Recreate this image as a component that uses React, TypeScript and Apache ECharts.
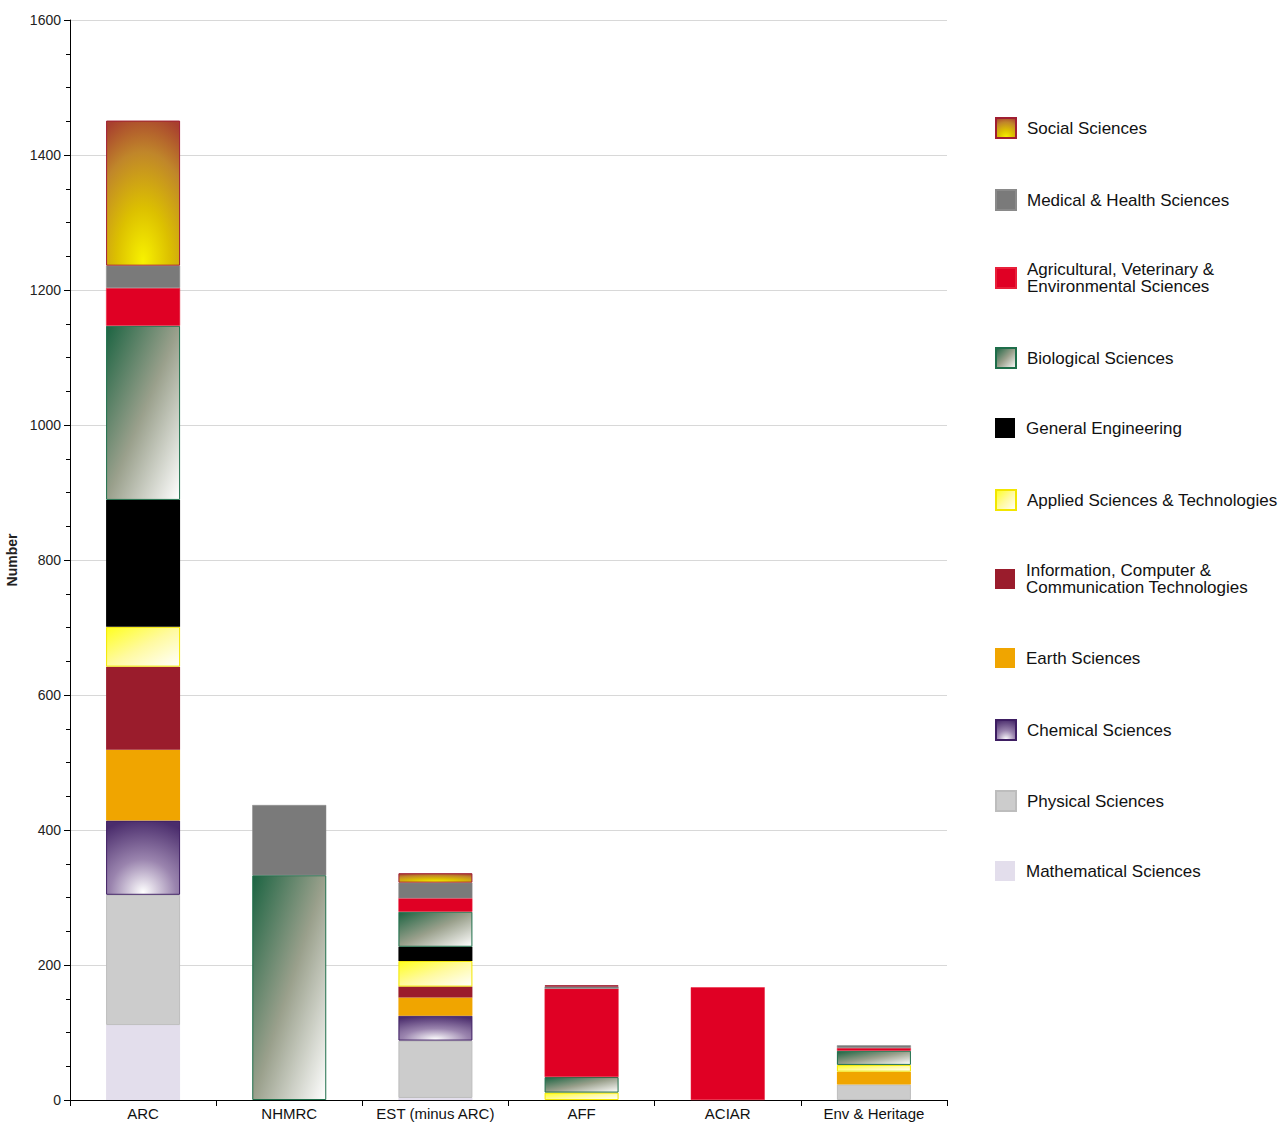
import React, { useEffect, useRef } from "react";
import * as echarts from "echarts";

const categories = ["ARC", "NHMRC", "EST (minus ARC)", "AFF", "ACIAR", "Env & Heritage"];

const mathematical = [111, 0, 3, 0, 0, 0];
const physical = [193, 0, 85, 0, 0, 23];
const chemical = [110, 0, 37, 0, 0, 0];
const earth = [105, 0, 27, 0, 0, 19];
const ict = [123, 0, 16, 0, 0, 0];
const applied = [59, 0, 38, 11, 0, 10];
const generalEng = [188, 0, 21, 0, 0, 0];
const biological = [258, 333, 52, 23, 0, 21];
const agricultural = [56, 0, 20, 131, 167, 4];
const medical = [33, 104, 23, 3, 0, 4];
const social = [215, 0, 14, 2, 0, 0];

const yTicks = [0, 200, 400, 600, 800, 1000, 1200, 1400, 1600];

const names = {
  social: "Social Sciences",
  medical: "Medical & Health Sciences",
  agri: "Agricultural, Veterinary &\nEnvironmental Sciences",
  bio: "Biological Sciences",
  gen: "General Engineering",
  applied: "Applied Sciences & Technologies",
  ict: "Information, Computer &\nCommunication Technologies",
  earth: "Earth Sciences",
  chem: "Chemical Sciences",
  phys: "Physical Sciences",
  math: "Mathematical Sciences",
};

export default function App() {
  const ref = useRef<HTMLDivElement>(null);
  useEffect(() => {
    document.body.style.margin = "0";
    const chart = echarts.init(ref.current!, null, { renderer: "svg" });
    const G = echarts.graphic;
    const styles: Record<string, any> = {
      social: {
        color: new G.RadialGradient(0.5, 0.97, 1.05, [
          { offset: 0, color: "#f8f200" },
          { offset: 0.35, color: "#dcc000" },
          { offset: 0.72, color: "#c0862a" },
          { offset: 1, color: "#a8402e" },
        ]),
        borderColor: "#a01e32",
        borderWidth: 1,
      },
      medical: { color: "#7a7a7a", borderColor: "#8a8a8a", borderWidth: 0.5 },
      agri: { color: "#e00024", borderColor: "#e8203a", borderWidth: 0.5 },
      bio: {
        color: new G.LinearGradient(0, 0, 1, 1, [
          { offset: 0, color: "#1c6442" },
          { offset: 0.5, color: "#9aa08c" },
          { offset: 1, color: "#ffffff" },
        ]),
        borderColor: "#1e6e4a",
        borderWidth: 1,
      },
      gen: { color: "#000000" },
      applied: {
        color: new G.LinearGradient(0, 0, 1, 1, [
          { offset: 0, color: "#ffff1e" },
          { offset: 0.5, color: "#fffaa0" },
          { offset: 1, color: "#ffffff" },
        ]),
        borderColor: "#f2e600",
        borderWidth: 1,
      },
      ict: { color: "#9a1c2c" },
      earth: { color: "#f0a500" },
      chem: {
        color: new G.RadialGradient(0.5, 0.97, 1.0, [
          { offset: 0, color: "#ffffff" },
          { offset: 0.45, color: "#9a84ae" },
          { offset: 1, color: "#4a2c6c" },
        ]),
        borderColor: "#3e1e62",
        borderWidth: 1,
      },
      phys: { color: "#cccccc", borderColor: "#bdbdbd", borderWidth: 1 },
      math: { color: "#e3deec" },
    };

    const order: [string, number[]][] = [
      ["math", mathematical],
      ["phys", physical],
      ["chem", chemical],
      ["earth", earth],
      ["ict", ict],
      ["applied", applied],
      ["gen", generalEng],
      ["bio", biological],
      ["agri", agricultural],
      ["medical", medical],
      ["social", social],
    ];

    const series = order.map(([key, vals]) => ({
      name: (names as any)[key],
      type: "bar",
      stack: "total",
      barWidth: 74,
      data: vals.map((v) => (v === 0 ? "-" : v)),
      itemStyle: styles[key],
      emphasis: { disabled: true },
    }));

    const legendOrder: [string, number, boolean][] = [
      ["social", 127, false],
      ["medical", 199, false],
      ["agri", 278, true],
      ["bio", 357, false],
      ["gen", 428, false],
      ["applied", 499, false],
      ["ict", 579, true],
      ["earth", 658, false],
      ["chem", 729, false],
      ["phys", 800, false],
      ["math", 871, false],
    ];

    const legends = legendOrder.map(([key, cy, two]) => ({
      show: true,
      left: 995,
      top: cy - (two ? 17 : 10),
      padding: 0,
      orient: "vertical",
      icon: "rect",
      itemWidth: 20,
      itemHeight: 20,
      selectedMode: false,
      data: [(names as any)[key]],
      textStyle: {
        fontFamily: "Liberation Sans, Arial, sans-serif",
        fontSize: 17,
        lineHeight: 17,
        color: "#111",
        padding: [0, 0, 0, 6],
      },
    }));

    chart.setOption({
      animation: false,
      backgroundColor: "#ffffff",
      textStyle: { fontFamily: "Liberation Sans, Arial, sans-serif" },
      grid: { left: 70, right: 337, top: 20, bottom: 22, containLabel: false, outerBoundsMode: "none" },
      legend: legends,
      xAxis: {
        type: "category",
        data: categories,
        axisLine: { show: true, lineStyle: { color: "#000", width: 1 } },
        axisTick: { show: true, alignWithLabel: false, length: 6, lineStyle: { color: "#000" } },
        axisLabel: { fontSize: 15, lineHeight: 15, color: "#111", margin: 6, interval: 0 },
        splitLine: { show: false },
      },
      yAxis: {
        type: "value",
        min: yTicks[0],
        max: yTicks[yTicks.length - 1],
        interval: 200,
        name: "Number",
        nameLocation: "middle",
        nameRotate: 90,
        nameGap: 44,
        nameTextStyle: { fontSize: 14, fontWeight: "bold", color: "#222" },
        axisLine: { show: true, lineStyle: { color: "#000", width: 1 } },
        axisTick: { show: true, length: 6, lineStyle: { color: "#000" } },
        minorTick: { show: true, splitNumber: 4, length: 4, lineStyle: { color: "#000" } },
        axisLabel: { fontSize: 14, color: "#222", margin: 9, formatter: (v: number) => String(v) },
        splitLine: { show: true, lineStyle: { color: "#d8d8d8", width: 1 } },
      },
      series,
    });
    return () => chart.dispose();
  }, []);
  return <div ref={ref} style={{ width: 1284, height: 1122 }} />;
}
